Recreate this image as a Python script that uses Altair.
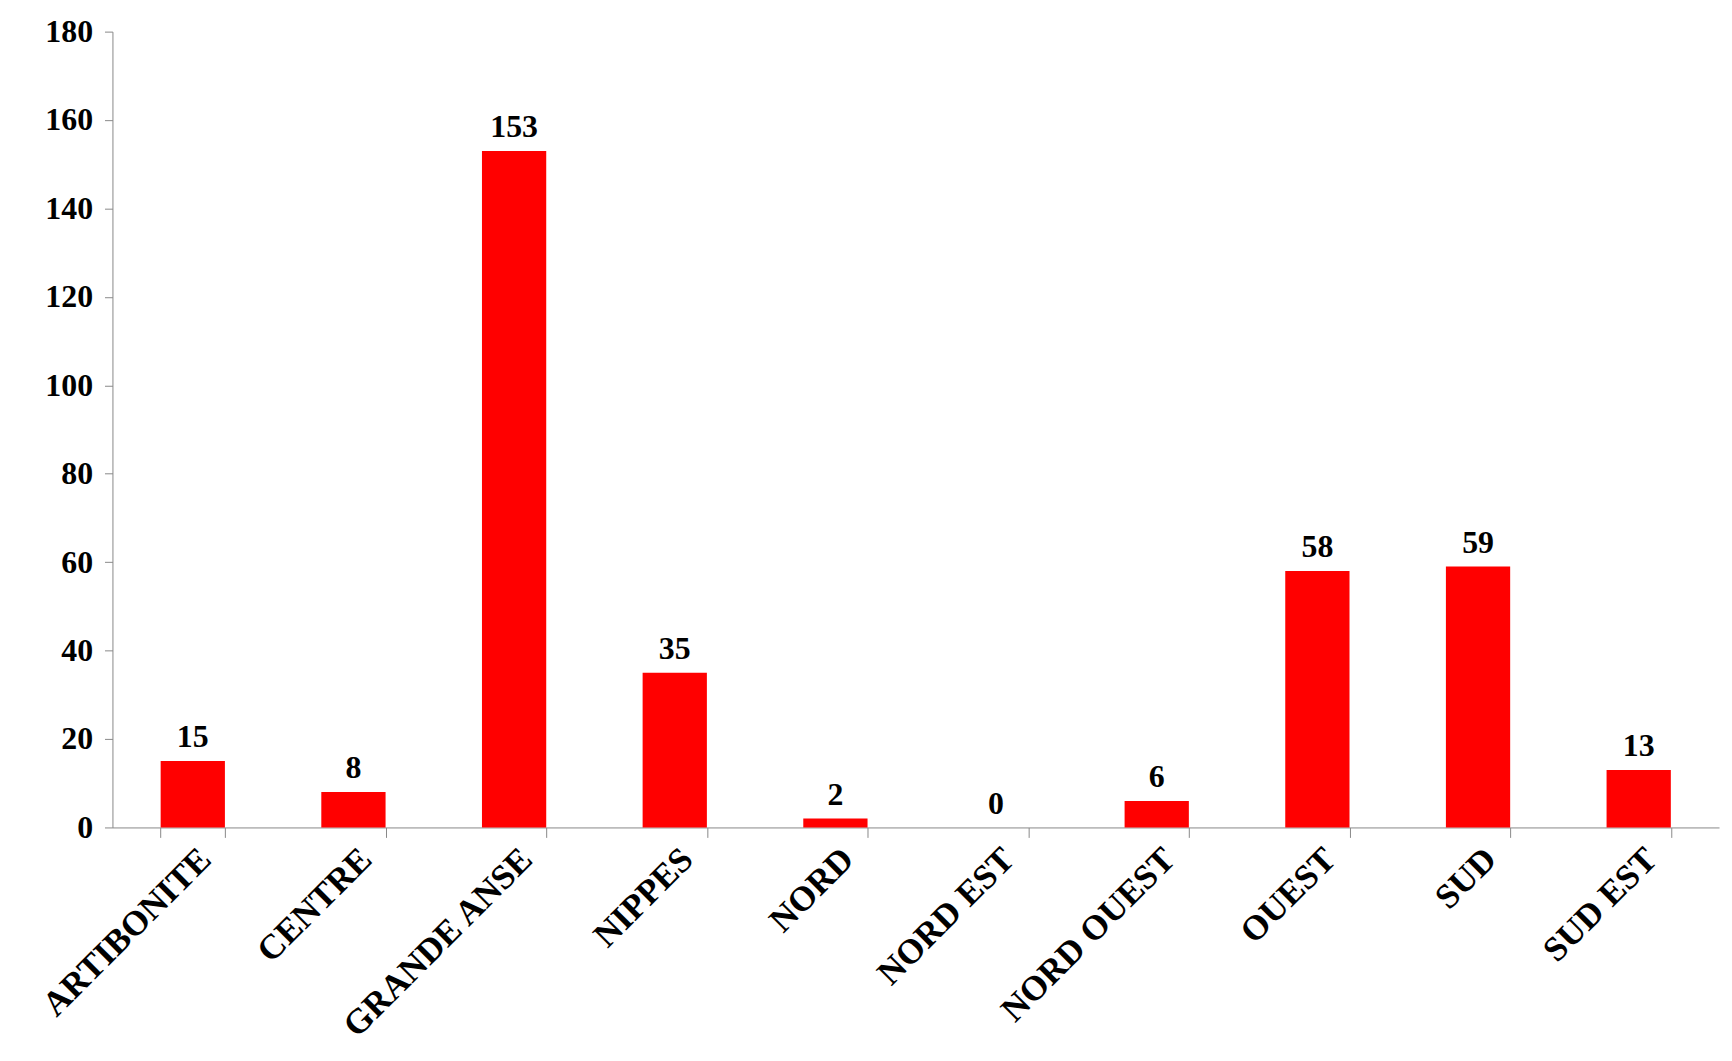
import altair as alt
import pandas as pd

cats = ["ARTIBONITE","CENTRE","GRANDE ANSE","NIPPES","NORD","NORD EST","NORD OUEST","OUEST","SUD","SUD EST"]
vals = [15,8,153,35,2,0,6,58,59,13]
df = pd.DataFrame({"c":cats,"v":vals})

F = "Liberation Serif"
x = alt.X("c:N", sort=cats, title=None,
          scale=alt.Scale(paddingInner=0.6, paddingOuter=0.3),
          axis=alt.Axis(labelAngle=-45, labelFont=F, labelFontSize=35, labelFontWeight="bold",
                        labelColor="black", domainColor="#888", tickColor="#888", tickSize=10,
                        tickBand="extent", labelAlign="right", labelBaseline="top", labelPadding=4,
                        labelLimit=0))
y = alt.Y("v:Q", title=None, scale=alt.Scale(domain=[0,180]),
          axis=alt.Axis(values=list(range(0,181,20)), grid=False, labelFont=F, labelFontSize=32,
                        labelFontWeight="bold", labelColor="black", domainColor="#888",
                        tickColor="#888", tickSize=8, labelPadding=12))
base = alt.Chart(df).encode(x=x, y=y)
bars = base.mark_bar(color="#ff0000")
text = base.mark_text(dy=-24, font=F, fontSize=32, fontWeight="bold", color="black").encode(text="v:Q")
chart = (bars + text).properties(
    width=1615, height=800,
    padding={"left": 28, "top": 5, "right": 5, "bottom": 5},
).configure(background="white", view=alt.ViewConfig(stroke=None, strokeWidth=0))
chart.save("out.html", embed_options={"renderer": "svg", "actions": False})
